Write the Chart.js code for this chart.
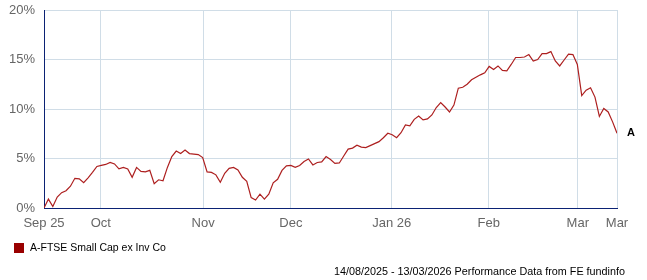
<!DOCTYPE html>
<html>
<head>
<meta charset="utf-8">
<script src="https://cdn.jsdelivr.net/npm/chart.js@4"></script>
<style>
  body { margin: 0; background: #fff; }
</style>
</head>
<body>
<canvas id="grafica" width="647" height="280"></canvas>
<script>
const seriesName = 'A-FTSE Small Cap ex Inv Co';
const footerText = '14/08/2025 - 13/03/2026 Performance Data from FE fundinfo';

// % growth, one point per trading day
const valores = [
    0, 0.9, 0.15, 1.1, 1.55, 1.75, 2.2, 3.0, 2.95, 2.55,
    3.05, 3.6, 4.2, 4.3, 4.4, 4.6, 4.45, 3.95, 4.1, 3.95,
    3.1, 4.1, 3.7, 3.65, 3.8, 2.45, 2.85, 2.75, 4.1, 5.2,
    5.75, 5.5, 5.85, 5.5, 5.45, 5.4, 5.1, 3.65, 3.6, 3.35,
    2.6, 3.5, 4.0, 4.1, 3.85, 3.1, 2.7, 1.05, 0.8, 1.4,
    0.9, 1.4, 2.55, 2.9, 3.8, 4.25, 4.3, 4.1, 4.3, 4.7,
    4.95, 4.35, 4.6, 4.65, 5.2, 4.9, 4.5, 4.55, 5.25, 5.95,
    6.05, 6.35, 6.15, 6.1, 6.3, 6.5, 6.7, 7.1, 7.55, 7.4,
    7.1, 7.6, 8.4, 8.3, 8.95, 9.3, 8.9, 9.0, 9.4, 10.15,
    10.65, 10.2, 9.7, 10.4, 12.1, 12.2, 12.5, 12.95, 13.2, 13.45,
    13.65, 14.3, 14.0, 14.35, 13.9, 13.85, 14.5, 15.2, 15.2, 15.25,
    15.5, 14.85, 15.0, 15.6, 15.6, 15.8, 14.85, 14.35, 14.95, 15.55,
    15.5, 14.5, 11.35, 11.9, 12.15, 11.2, 9.25, 10.05, 9.7, 8.7, 7.55
];

// month ticks (position in trading days)
const tickPos = [0, 12.9, 36.1, 56, 78.9, 100.9, 121.1, 130];
const tickLabels = ['Sep 25', 'Oct', 'Nov', 'Dec', 'Jan 26', 'Feb', 'Mar', 'Mar'];

const yTicks = [0, 5, 10, 15, 20];

const colorLinea = '#ad1f1f';
const colorLeyenda = '#990000';
const colorEje = '#0b2274';
const colorRejilla = '#d0dde7';

const extras = {
    id: 'extras',
    afterDraw(chart) {
        const ctx = chart.ctx;
        const meta = chart.getDatasetMeta(0);
        const last = meta.data[meta.data.length - 1];
        ctx.save();
        // series tag at the line end
        ctx.fillStyle = '#000';
        ctx.font = 'bold 11px "Liberation Sans", Arial, sans-serif';
        ctx.textBaseline = 'middle';
        ctx.textAlign = 'left';
        ctx.fillText('A', last.x + 10, last.y);
        // legend
        ctx.fillStyle = colorLeyenda;
        ctx.fillRect(14, 243, 10, 10);
        ctx.fillStyle = '#000';
        ctx.font = '10.5px "Liberation Sans", Arial, sans-serif';
        ctx.fillText(chart.data.datasets[0].label, 30, 248.5);
        // footer
        ctx.textAlign = 'right';
        ctx.font = '10.8px "Liberation Sans", Arial, sans-serif';
        ctx.fillText(footerText, 625, 272.5);
        ctx.restore();
    }
};

new Chart(document.getElementById('grafica'), {
    type: 'line',
    data: {
        datasets: [{
            label: seriesName,
            data: valores.map((v, i) => ({ x: i, y: v })),
            borderColor: colorLinea,
            borderWidth: 1.2,
            pointRadius: 0,
            tension: 0,
            fill: false
        }]
    },
    options: {
        responsive: false,
        animation: false,
        layout: { padding: { top: 10, right: 30, left: 0, bottom: 0 } },
        plugins: {
            legend: { display: false },
            tooltip: { enabled: false }
        },
        scales: {
            x: {
                type: 'linear',
                min: 0,
                max: valores.length - 1,
                afterBuildTicks: (scale) => {
                    scale.ticks = tickPos.map(v => ({ value: v }));
                },
                afterFit: (scale) => {
                    scale.height = 72;
                    scale.paddingLeft = 0;
                    scale.paddingRight = 0;
                },
                grid: { color: colorRejilla, drawTicks: false },
                border: { color: colorEje, width: 1 },
                ticks: {
                    autoSkip: false,
                    maxRotation: 0,
                    padding: 8,
                    color: '#666',
                    font: { family: '"Liberation Sans", Arial, sans-serif', size: 13 },
                    callback: (v, i) => tickLabels[i]
                }
            },
            y: {
                min: 0,
                max: 20,
                afterBuildTicks: (scale) => {
                    scale.ticks = yTicks.map(v => ({ value: v }));
                },
                afterFit: (scale) => {
                    scale.width = 44;
                    scale.paddingTop = 0;
                    scale.paddingBottom = 0;
                },
                grid: { color: colorRejilla, drawTicks: false },
                border: { color: colorEje, width: 1 },
                ticks: {
                    padding: 9,
                    color: '#666',
                    font: { family: '"Liberation Sans", Arial, sans-serif', size: 13 },
                    callback: (v) => v + '%'
                }
            }
        }
    },
    plugins: [extras]
});
</script>
</body>
</html>
